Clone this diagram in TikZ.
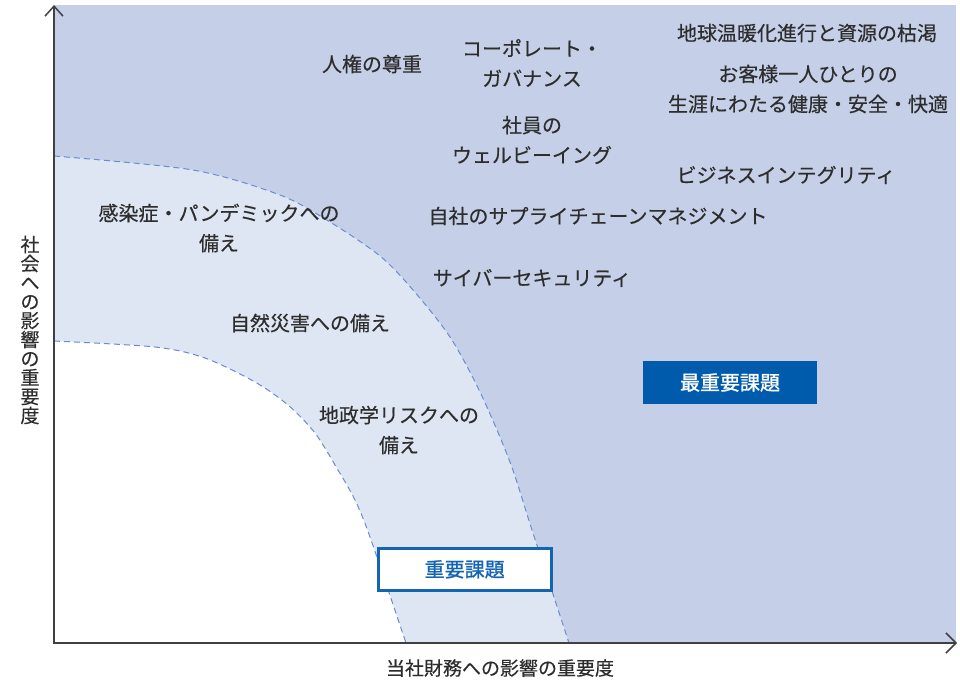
\documentclass[tikz,border=0pt]{standalone}
\usepackage{fontspec}
\newfontfamily\jp[FakeBold=0.35]{Noto Sans CJK JP}
\newfontfamily\jpb[FakeBold=1.2]{Noto Sans CJK JP}
\usetikzlibrary{arrows.meta}
\definecolor{darkzone}{RGB}{197,208,232}
\definecolor{lightzone}{RGB}{223,230,243}
\definecolor{dashblue}{RGB}{105,140,208}
\definecolor{boxblue}{RGB}{0,91,172}
\definecolor{boxline}{RGB}{20,100,180}
\definecolor{txt}{RGB}{45,45,45}
\definecolor{axiscol}{RGB}{64,64,64}
\tikzset{
  lbl/.style={inner sep=0pt, align=center, text=txt, font=\jp\fontsize{20}{30}\selectfont},
  axlbl/.style={inner sep=0pt, align=center, text=txt, font=\jp\fontsize{19}{19}\selectfont},
  zoneline/.style={draw=dashblue, line width=1pt, dash pattern=on 6pt off 4pt},
  axisline/.style={draw=axiscol, line width=2pt, line join=miter},
  bigbox/.style={fill=boxblue, text=white, inner sep=0pt, minimum width=174pt, minimum height=43pt, font=\jpb\fontsize{20}{24}\selectfont},
  smallbox/.style={draw=boxline, line width=3pt, fill=white, text=boxline, inner sep=0pt, minimum width=173pt, minimum height=42pt, font=\jpb\fontsize{20}{24}\selectfont}
}
\begin{document}
\begin{tikzpicture}[x=1pt,y=-1pt]
\useasboundingbox (0,0) rectangle (960,683);
% zones
\fill[darkzone] (54,5) rectangle (956,643);
\fill[lightzone] (54,643) -- plot[smooth] coordinates {(54,156) (193,170) (280,195) (330,222) (380,256) (413,290) (450,337) (480,392) (510,462) (532,530) (569,643)} -- cycle;
\fill[white] (54,643) -- plot[smooth] coordinates {(54,341) (155,347) (205,358) (255,382) (288,405) (315,433) (338,470) (355,500) (370,537) (406,643)} -- cycle;
\draw[zoneline] plot[smooth] coordinates {(54,156) (193,170) (280,195) (330,222) (380,256) (413,290) (450,337) (480,392) (510,462) (532,530) (569,643)};
\draw[zoneline] plot[smooth] coordinates {(54,341) (155,347) (205,358) (255,382) (288,405) (315,433) (338,470) (355,500) (370,537) (406,643)};
% axes
\coordinate (O) at (54,643);
\coordinate (ytop) at (54,5);
\coordinate (xend) at (957,643);
\draw[axisline, {Straight Barb[length=10pt,width=18pt,line width=1.5pt]}-{Straight Barb[length=10pt,width=20pt,line width=1.5pt]}] (ytop) -- (O) -- (xend);
% labels
\node[lbl] (n1) at (372,64) {人権の尊重};
\node[lbl] (n2) at (532,63) {コーポレート・\\ガバナンス};
\node[lbl] (n3) at (532,140) {社員の\\ウェルビーイング};
\node[lbl] (n4) at (807,33) {地球温暖化進行と資源の枯渇};
\node[lbl] (n5) at (808,89) {お客様一人ひとりの\\生涯にわたる健康・安全・快適};
\node[lbl] (n6) at (786,175) {ビジネスインテグリティ};
\node[lbl] (n7) at (598,216) {自社のサプライチェーンマネジメント};
\node[lbl] (n8) at (532,278) {サイバーセキュリティ};
\node[lbl] (n9) at (219,228) {感染症・パンデミックへの\\備え};
\node[lbl] (n10) at (310,323) {自然災害への備え};
\node[lbl] (n11) at (399,430) {地政学リスクへの\\備え};
\node[bigbox] (b1) at (730,382.5) {最重要課題};
\node[smallbox] (b2) at (464.7,569.3) {重要課題};
\node[axlbl] (xl) at (500,668) {当社財務への影響の重要度};
\node[axlbl] (yl) at (30,330) {社\\会\\へ\\の\\影\\響\\の\\重\\要\\度};
\end{tikzpicture}
\end{document}
